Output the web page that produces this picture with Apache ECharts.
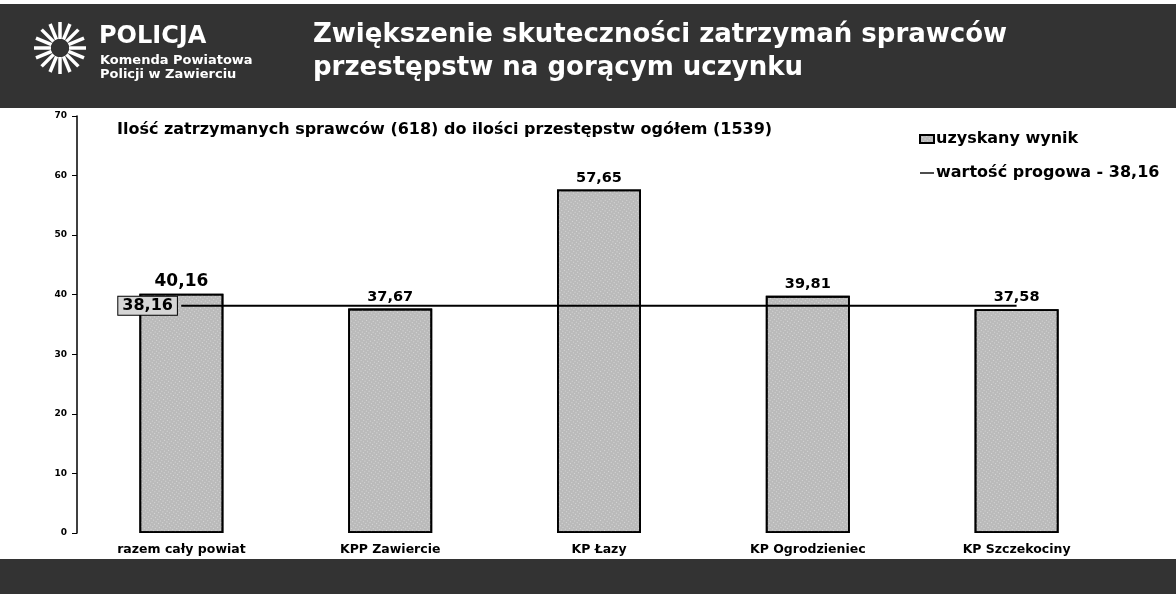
<!DOCTYPE html>
<html>
<head>
<meta charset="utf-8">
<title>Zwiększenie skuteczności zatrzymań sprawców</title>
<script src="https://cdn.jsdelivr.net/npm/echarts@6/dist/echarts.min.js"></script>
<style>
  html, body { margin: 0; padding: 0; background: #fff; }
  #chart { width: 1176px; height: 594px; }
</style>
</head>
<body>
<div id="chart"></div>
<script>
// dane
const categories = ['razem cały powiat', 'KPP Zawiercie', 'KP Łazy', 'KP Ogrodzieniec', 'KP Szczekociny']
const resultValues = [40.16, 37.67, 57.65, 39.81, 37.58]
const thresholdValues = [38.16, 38.16, 38.16, 38.16, 38.16]
const yTicks = { min: 0, max: 70, interval: 10 }

const FONT = '"DejaVu Sans", Arial, sans-serif'
const BAND = '#333333'

function pl(v) {
  return v.toFixed(2).replace('.', ',')
}

// logo - gwiazda z promieni
function logoRays(cx, cy) {
  const rays = []
  for (let i = 0; i < 16; i++) {
    const a = (Math.PI * 2 * i) / 16
    rays.push({
      type: 'line',
      shape: {
        x1: cx + Math.cos(a) * 9, y1: cy + Math.sin(a) * 9,
        x2: cx + Math.cos(a) * 26, y2: cy + Math.sin(a) * 26
      },
      style: { stroke: '#fff', lineWidth: 3.5 }
    })
  }
  return rays
}

const chart = echarts.init(document.getElementById('chart'))

chart.setOption({
  animation: false,
  backgroundColor: '#fff',
  textStyle: { fontFamily: FONT },
  graphic: [
    { type: 'rect', shape: { x: 0, y: 4, width: 1176, height: 104 }, style: { fill: BAND }, z: -1 },
    { type: 'rect', shape: { x: 0, y: 559, width: 1176, height: 35 }, style: { fill: BAND }, z: -1 },
    ...logoRays(60, 48),
    { type: 'circle', shape: { cx: 60, cy: 48, r: 9 }, style: { fill: BAND } },
    { type: 'text', left: 99, top: 25, style: { text: 'POLICJA', fill: '#fff', font: 'bold 24px ' + FONT } },
    { type: 'text', left: 100, top: 54, style: { text: 'Komenda Powiatowa', fill: '#fff', font: 'bold 13px ' + FONT } },
    { type: 'text', left: 100, top: 68, style: { text: 'Policji w Zawierciu', fill: '#fff', font: 'bold 13px ' + FONT } },
    { type: 'text', left: 313, top: 22, style: { text: 'Zwiększenie skuteczności zatrzymań sprawców', fill: '#fff', font: 'bold 26px ' + FONT } },
    { type: 'text', left: 313, top: 55, style: { text: 'przestępstw na gorącym uczynku', fill: '#fff', font: 'bold 26px ' + FONT } },
    { type: 'text', left: 117, top: 122, style: { text: 'Ilość zatrzymanych sprawców (618) do ilości przestępstw ogółem (1539)', fill: '#000', font: 'bold 16px ' + FONT } }
  ],
  legend: {
    orient: 'vertical',
    left: 914,
    top: 126,
    itemGap: 18,
    itemWidth: 14,
    itemHeight: 8,
    textStyle: { fontSize: 16, fontWeight: 'bold', color: '#000', fontFamily: FONT, padding: [0, 0, 0, -3] },
    data: [
      { name: 'uzyskany wynik', icon: 'rect' },
      { name: 'wartość progowa - 38,16', icon: 'path://M0,0H20V2H0Z' }
    ]
  },
  grid: { left: 77, right: 55, top: 116, bottom: 61 },
  xAxis: {
    type: 'category',
    data: categories,
    axisLine: { show: false },
    axisTick: { show: false },
    axisLabel: { color: '#000', fontSize: 12.5, fontWeight: 'bold', margin: 10 }
  },
  yAxis: {
    type: 'value',
    min: yTicks.min,
    max: yTicks.max,
    interval: yTicks.interval,
    splitLine: { show: false },
    axisLine: { show: true, lineStyle: { color: '#000', width: 1.5 } },
    axisTick: { show: true, length: 5, lineStyle: { color: '#000' } },
    axisLabel: { color: '#000', fontSize: 9, fontWeight: 'bold', margin: 10 }
  },
  series: [
    {
      name: 'uzyskany wynik',
      type: 'bar',
      barWidth: 84,
      data: resultValues.map((v, i) => i === 0 ? { value: v, label: { fontSize: 17 } } : v),
      itemStyle: {
        color: '#bababa',
        borderColor: '#000',
        borderWidth: 1.8,
        decal: {
          symbol: 'rect',
          symbolSize: 1,
          color: 'rgba(255,255,255,0.45)',
          dashArrayX: [1, 2],
          dashArrayY: [1, 2],
          rotation: 0.6
        }
      },
      label: {
        show: true,
        position: 'top',
        distance: 4,
        color: '#000',
        fontSize: 14.5,
        fontWeight: 'bold',
        formatter: p => pl(p.value)
      }
    },
    {
      name: 'wartość progowa - 38,16',
      type: 'line',
      data: thresholdValues.map((v, i) => i === 0 ? {
        value: v,
        symbol: 'circle',
        symbolSize: 1,
        label: {
          show: true,
          position: 'left',
          distance: 4,
          formatter: p => pl(p.value),
          color: '#000',
          fontSize: 16,
          fontWeight: 'bold',
          backgroundColor: '#d6d6d6',
          borderColor: '#000',
          borderWidth: 1,
          padding: [2, 4, 0, 4]
        }
      } : { value: v, symbol: 'none' }),
      showSymbol: true,
      symbol: 'none',
      z: 3,
      itemStyle: { color: '#000' },
      lineStyle: { color: '#000', width: 2 }
    }
  ]
})
</script>
</body>
</html>
